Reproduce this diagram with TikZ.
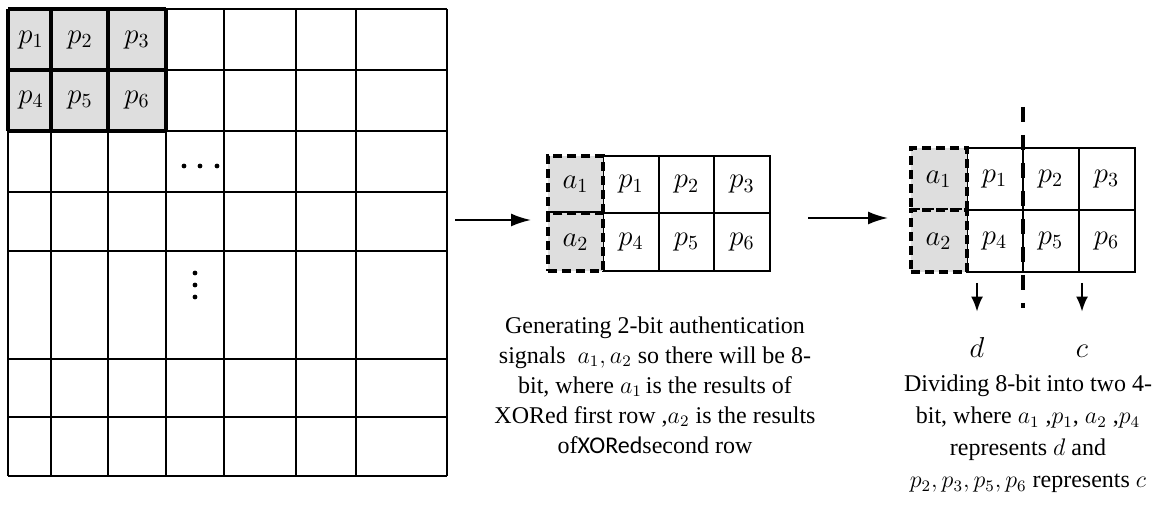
\documentclass[tikz,border=0pt]{standalone}
\usepackage{fontspec}
\setmainfont{Liberation Serif}
\newfontfamily\calibrifont{Carlito}
\usetikzlibrary{positioning,arrows.meta}
\definecolor{cellgray}{RGB}{222,222,222}
\begin{document}
\begin{tikzpicture}[
  x=0.5pt, y=-0.5pt,
  thin line/.style={line width=1pt},
  thick line/.style={line width=2pt},
  lbl/.style={font=\fontsize{14}{16}\selectfont, inner sep=0pt},
  pcell/.style={rectangle, draw, line width=1pt, minimum width=27.75pt,
    minimum height=28.75pt, inner sep=0pt, outer sep=0pt, font=\fontsize{14}{16}\selectfont},
  acell/.style={pcell, fill=cellgray, line width=2pt, dash pattern=on 4.5pt off 2.5pt},
  rcell/.style={pcell, minimum width=28pt, minimum height=31pt},
  racell/.style={acell, minimum width=28pt, minimum height=31pt},
  arr/.style={line width=1pt, -{Latex[length=10pt,width=6.5pt]}},
  smallarr/.style={line width=1pt, -{Latex[length=7.5pt,width=6pt]}},
  txt/.style={align=center, font=\fontsize{12}{15}\selectfont, inner sep=0pt},
  dc/.style={font=\fontsize{14}{14}\selectfont, text height=10pt, text depth=0pt,
    inner sep=0pt, anchor=base},
  dot/.style={circle, fill, inner sep=0pt, minimum size=2.4pt}
]
\useasboundingbox (0,0) rectangle (1172,517);

% big image grid
\fill[cellgray] (8,9) rectangle (166,131);
\foreach \x in {8,51,108,166,224,296,356,447}
  \draw[thin line] (\x,9) -- (\x,476);
\foreach \y in {9,70,131,192,251,359,417,476}
  \draw[thin line] (8,\y) -- (447,\y);
\foreach \x in {8,51,108,166}
  \draw[thick line] (\x,9) -- (\x,131);
\foreach \y in {9,70,131}
  \draw[thick line] (8,\y) -- (166,\y);

\node[lbl] (g1) at (31,40) {$p_1$};
\node[lbl] (g2) at (80,40) {$p_2$};
\node[lbl] (g3) at (137,40) {$p_3$};
\node[lbl] (g4) at (31,100) {$p_4$};
\node[lbl] (g5) at (80,100) {$p_5$};
\node[lbl] (g6) at (137,100) {$p_6$};
% ellipsis dots
\foreach \x [count=\i] in {184,200,217}
  \node[dot] (hd\i) at (\x,166) {};
\foreach \y [count=\i] in {273,285,297}
  \node[dot] (vd\i) at (195,\y) {};

% middle block
\node[pcell] (mp1) at (631,184.5) {$p_1$};
\node[pcell, right=0pt of mp1] (mp2) {$p_2$};
\node[pcell, right=0pt of mp2] (mp3) {$p_3$};
\node[pcell, below=0pt of mp1] (mp4) {$p_4$};
\node[pcell, right=0pt of mp4] (mp5) {$p_5$};
\node[pcell, right=0pt of mp5] (mp6) {$p_6$};
\node[acell, left=0pt of mp1] (ma1) {$a_1$};
\node[acell, left=0pt of mp4] (ma2) {$a_2$};

\node[txt] (gentext) at (655,385) {Generating 2-bit authentication\\
  signals\ \ $a_1, a_2$ so there will be 8-\\
  bit, where $a_1$\,is the results of\\
  XORed first row ,$a_2$ is the results\\
  of{\calibrifont XORed}second row};

% right block
\node[rcell] (rp1) at (994.5,179) {$p_1$};
\node[rcell, right=0pt of rp1] (rp2) {$p_2$};
\node[rcell, right=0pt of rp2] (rp3) {$p_3$};
\node[rcell, below=0pt of rp1] (rp4) {$p_4$};
\node[rcell, right=0pt of rp4] (rp5) {$p_5$};
\node[rcell, right=0pt of rp5] (rp6) {$p_6$};
\node[racell, left=0pt of rp1] (ra1) {$a_1$};
\node[racell, left=0pt of rp4] (ra2) {$a_2$};

\draw[line width=2pt, dash pattern=on 7.5pt off 6.5pt]
  ([yshift=20.5pt]rp1.north east) -- ([yshift=-18pt]rp4.south east);

\node[dc] (dlab) at (977,358) {$d$};
\node[dc] (clab) at (1082,358) {$c$};
\coordinate (dtop) at (977,283);
\coordinate (ctop) at (1082,283);
\draw[smallarr, shorten >=13pt] (dtop) -- (dlab);
\draw[smallarr, shorten >=13pt] (ctop) -- (clab);

\node[txt, font=\fontsize{12}{16}\selectfont] (divtext) at (1028,434) {Dividing 8-bit into two 4-\\
  bit, where $a_1$ ,$p_1$, $a_2$ ,$p_4$\\
  represents $d$ and\\
  $p_2, p_3, p_5, p_6$ represents $c$};

% arrows between stages
\coordinate (arr1a) at (455,220);
\coordinate (arr1b) at (531,220);
\coordinate (arr2a) at (808,218);
\coordinate (arr2b) at (888,218);
\draw[arr] (arr1a) -- (arr1b);
\draw[arr] (arr2a) -- (arr2b);
\end{tikzpicture}
\end{document}
